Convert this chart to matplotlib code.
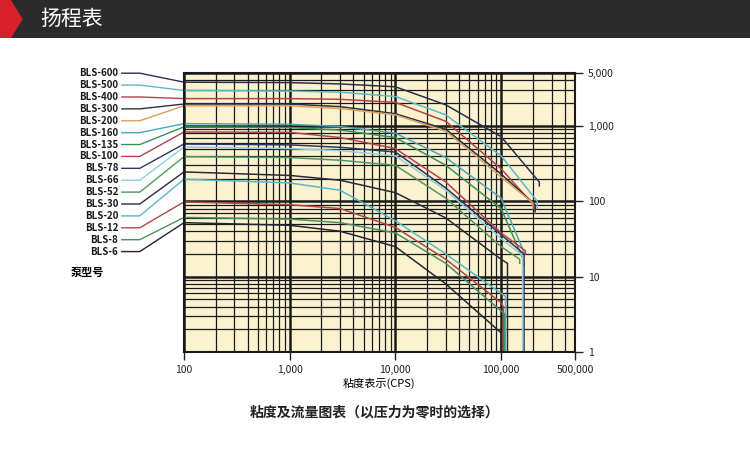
import numpy as np
import matplotlib.pyplot as plt
from matplotlib.patches import Polygon, Rectangle
from matplotlib.ticker import FixedLocator, NullFormatter

plt.rcParams['font.family'] = ['Noto Sans CJK SC', 'DejaVu Sans']

# pump models, top to bottom
models = ["BLS-600", "BLS-500", "BLS-400", "BLS-300", "BLS-200", "BLS-160", "BLS-135",
          "BLS-100", "BLS-78", "BLS-66", "BLS-52", "BLS-30", "BLS-20", "BLS-12", "BLS-8", "BLS-6"]
colors = ["#2a2f4f", "#5fb8c8", "#b5424a", "#303040", "#d9a05a", "#4aa6b8", "#3e8f5a",
          "#b84050", "#2f3560", "#8fd0dc", "#4f9a60", "#2a2a38", "#58b8c8", "#b04848", "#4a9060", "#252535"]

# viscosity points (cps) and flow values
visc = [100, 1000, 3000, 10000, 30000, 100000]
flow = {
    "BLS-600": [3800, 3750, 3600, 3300, 1900, 720],
    "BLS-500": [2950, 2900, 2800, 2450, 1400, 400],
    "BLS-400": [2300, 2300, 2250, 2050, 1150, 270],
    "BLS-300": [1950, 1950, 1800, 1450, 900, 230],
    "BLS-200": [1850, 1850, 1700, 1400, 850, 210],
    "BLS-160": [1070, 1050, 980, 800, 380, 110],
    "BLS-135": [970, 950, 880, 700, 300, 80],
    "BLS-100": [830, 820, 700, 500, 180, 38],
    "BLS-78": [575, 560, 520, 450, 150, 36],
    "BLS-66": [525, 500, 470, 400, 140, 32],
    "BLS-52": [390, 380, 350, 300, 110, 25],
    "BLS-30": [245, 220, 190, 130, 60, 17],
    "BLS-20": [196, 175, 140, 55, 20, 6],
    "BLS-12": [98, 90, 80, 45, 17, 4.5],
    "BLS-8": [61, 58, 52, 38, 15, 3.5],
    "BLS-6": [52, 48, 40, 25, 8, 1.8],
}
# end of each curve: (viscosity, flow at end, flow after vertical drop)
end_pts = {
    "BLS-600": (230000, 180, 160), "BLS-500": (220000, 100, 80),
    "BLS-400": (210000, 85, 70), "BLS-300": (210000, 90, 75), "BLS-200": (200000, 95, 80),
    "BLS-160": (165000, 21, 18), "BLS-135": (165000, 16, 14), "BLS-100": (170000, 22, 20),
    "BLS-78": (165000, 20, 1), "BLS-66": (160000, 19, 1), "BLS-52": (150000, 17, 15),
    "BLS-30": (115000, 15, 1), "BLS-20": (110000, 5.5, 1), "BLS-12": (105000, 4, 1),
    "BLS-8": (108000, 3.2, 1), "BLS-6": (100000, 1.8, 1),
}

fig = plt.figure(figsize=(7.5, 4.49), dpi=100)

# header bar
hdr = fig.add_axes([0, 0.915, 1, 0.085])
hdr.set_xlim(0, 750)
hdr.set_ylim(0, 38)
hdr.axis("off")
hdr.add_patch(Rectangle((0, 0), 750, 38, color="#2b2b2b"))
hdr.add_patch(Polygon([(0, 0), (0, 38), (10, 38), (22, 19), (10, 0)], color="#d8202a"))
hdr.text(40, 19, "扬程表", color="white", fontsize=15, va="center")

ax = fig.add_axes([0.2453, 0.216, 0.5213, 0.621])
ax.set_facecolor("#fbf3cf")
ax.set_xscale("log")
ax.set_yscale("log")
ax.set_xlim(100, 500000)
ax.set_ylim(1, 5000)

minor = [m * 10 ** e for e in range(2, 6) for m in range(2, 10)]
ax.xaxis.set_minor_locator(FixedLocator(minor))
ax.yaxis.set_minor_locator(FixedLocator([m * 10 ** e for e in range(0, 4) for m in range(2, 10)]))
ax.xaxis.set_minor_formatter(NullFormatter())
ax.yaxis.set_minor_formatter(NullFormatter())
ax.grid(which="major", color="#1a1a1a", lw=1.8)
ax.grid(which="minor", color="#1a1a1a", lw=0.9)
ax.set_axisbelow(True)
for s in ax.spines.values():
    s.set_color("#1a1a1a")
    s.set_linewidth(1.5)

ax.set_xticks([100, 1000, 10000, 100000, 500000])
ax.set_xticklabels(["100", "1,000", "10,000", "100,000", "500,000"])
ax.yaxis.tick_right()
ax.set_yticks([1, 10, 100, 1000, 5000])
ax.set_yticklabels(["1", "10", "100", "1,000", "5,000"])
ax.tick_params(which="major", labelsize=7.5, length=6, width=1, colors="#222222")
ax.tick_params(which="minor", length=0)
ax.set_xlabel("粘度表示(CPS)", fontsize=8, labelpad=2)

for i, m in enumerate(models):
    vx, fy, fdrop = end_pts[m]
    xs = visc + [vx, vx]
    ys = flow[m] + [fy, fdrop]
    ax.plot(xs, ys, color=colors[i], lw=1.1)

    # legend label with leader line into the plot
    yl = 1 + (73 - (73 + 11.9 * i)) / 279
    f0 = np.log10(flow[m][0]) / np.log10(5000)
    ax.plot([-0.159, -0.113, 0], [yl, yl, f0], transform=ax.transAxes,
            color=colors[i], lw=1, clip_on=False)
    ax.text(-0.168, yl, m, transform=ax.transAxes, ha="right", va="center",
            fontsize=7, fontweight="bold", color="#1a1a1a")

ax.text(-0.29, 1 - 199 / 279, "泵型号", transform=ax.transAxes, ha="left", va="center",
        fontsize=8, fontweight="bold")

fig.text(0.5, 1 - 413 / 449, "粘度及流量图表（以压力为零时的选择）", ha="center", va="center",
         fontsize=10, fontweight="bold", color="#222222")

fig.savefig("out.png", dpi=100)
